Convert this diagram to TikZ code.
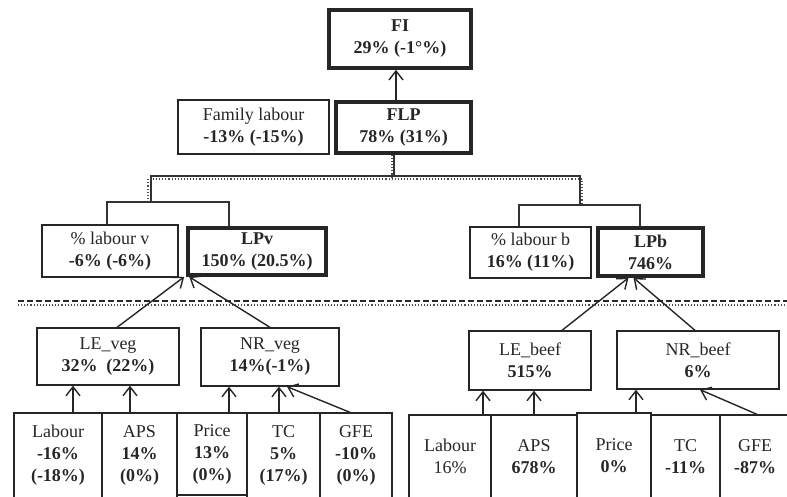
\documentclass[tikz,border=0pt]{standalone}
\usepackage{fontspec}
\setmainfont{Liberation Serif}
\usetikzlibrary{arrows.meta}

\begin{document}
\begin{tikzpicture}[
    x=1pt, y=-1pt,
    % Estilo para las cajas de indicadores
    caja/.style={draw=black!85, line width=1.3pt, align=center, inner sep=0pt, text=black!85, font=\fontsize{18}{22}\selectfont},
    cajaP/.style={caja, line width=3.6pt},
    tam/.style 2 args={minimum width=#1pt, minimum height=#2pt},
    % Estilo para las flechas de influencia
    flecha/.style={line width=1.4pt, draw=black!85, -{Straight Barb[length=9pt,width=14pt]}},
    % Estilo para el arbol de descomposicion
    bus/.style={line width=1.3pt, draw=black!80},
    punteo/.style={line width=1.1pt, dotted, draw=black!70}
]
    \useasboundingbox (0,0) rectangle (787,496);

    % ==========================================
    % NIVEL SUPERIOR: FI Y FLP
    % ==========================================
    \node[cajaP, tam={142}{58}] (fi) at (400,39) {\textbf{FI}\\\textbf{29\% (-1°\%)}};
    \node[caja, tam={151}{54}] (famlab) at (253.5,127) {Family labour\\\textbf{-13\% (-15\%)}};
    \node[cajaP, tam={135}{51}] (flp) at (403.5,127.5) {\textbf{FLP}\\\textbf{78\% (31\%)}};

    \draw[flecha] ([xshift=-7.5pt]flp.north) -- ([xshift=-7.5pt]flp.north |- fi.south);

    % ==========================================
    % NIVEL MEDIO: VEGETALES Y CARNE
    % ==========================================
    \node[caja, tam={136}{52}] (plv) at (110,251) {\% labour v\\\textbf{-6\% (-6\%)}};
    \node[cajaP, tam={138}{47}] (lpv) at (257,251.5) {\textbf{LPv}\\\textbf{150\% (20.5\%)}};
    \node[caja, tam={121}{51}] (plb) at (530.5,252.5) {\% labour b\\\textbf{16\% (11\%)}};
    \node[cajaP, tam={105}{48}] (lpb) at (650.5,252) {\textbf{LPb}\\\textbf{746\%}};

    % Arbol (linea doble: continua + punteada)
    \coordinate (hub) at (394,176);
    \coordinate (jv) at (151,202);
    \coordinate (jb) at (580,205);
    \draw[bus] (flp.south -| hub) -- (hub);
    \draw[bus] (jv) |- (hub) -| (jb);
    \draw[punteo] ([xshift=-2pt]flp.south -| hub) -- ([xshift=-2pt,yshift=-3pt]hub);
    \draw[punteo] ([xshift=-3pt]jv) |- ([yshift=-3pt]hub) -| ([xshift=2pt]jb);
    \draw[bus] ([xshift=-3pt]plv.north) |- (jv) -| ([xshift=-28pt]lpv.north);
    \draw[bus] ([xshift=-11.5pt]plb.north) |- (jb) -| ([xshift=-10.5pt]lpb.north);

    % Separador
    \draw[line width=1.4pt, draw=black!85, dash pattern=on 6pt off 3pt] (18,301) -- (787,301);
    \draw[punteo] (18,305) -- (787,305);

    % ==========================================
    % NIVEL INFERIOR: LE Y NR
    % ==========================================
    \node[caja, tam={142}{57}] (leveg) at (108,356.5) {LE\_veg\\\textbf{32\%\ \ (22\%)}};
    \node[caja, tam={138}{58}] (nrveg) at (270,357) {NR\_veg\\\textbf{14\%(-1\%)}};
    \node[caja, tam={122}{59}] (lebeef) at (530,360.5) {LE\_beef\\\textbf{515\%}};
    \node[caja, tam={162}{58}] (nrbeef) at (698,360) {NR\_beef\\\textbf{6\%}};

    \draw[flecha] ([xshift=9pt]leveg.north) -- ([xshift=-2pt]lpv.south west);
    \draw[flecha] (nrveg.north) -- ([xshift=3pt]lpv.south west);
    \draw[flecha] ([xshift=32pt]lebeef.north) -- ([xshift=-22pt]lpb.south);
    \draw[flecha] ([xshift=-3pt]nrbeef.north) -- ([xshift=-17pt]lpb.south);

    % Factores (vegetales)
    \node[caja, tam={88}{85}] (labv) at (58,455.5) {Labour\\\textbf{-16\%}\\\textbf{(-18\%)}};
    \node[caja, tam={75}{85}] (apsv) at (139.5,455.5) {APS\\\textbf{14\%}\\\textbf{(0\%)}};
    \node[caja, tam={70}{82}] (pricev) at (212,454) {Price\\\textbf{13\%}\\\textbf{(0\%)}};
    \node[caja, tam={73}{85}] (tcv) at (283.5,455.5) {TC\\\textbf{5\%}\\\textbf{(17\%)}};
    \node[caja, tam={72}{85}] (gfev) at (356,455.5) {GFE\\\textbf{-10\%}\\\textbf{(0\%)}};

    \draw[flecha] ([xshift=15pt]labv.north) -- ([xshift=15pt]labv.north |- leveg.south);
    \draw[flecha] ([xshift=-9.5pt]apsv.north) -- ([xshift=-9.5pt]apsv.north |- leveg.south);
    \draw[flecha] ([xshift=17pt]pricev.north) -- ([xshift=17pt]pricev.north |- nrveg.south);
    \draw[flecha] ([xshift=-4.5pt]tcv.north) -- ([xshift=-4.5pt]tcv.north |- nrveg.south);
    \draw[flecha] ([xshift=-6pt]gfev.north) -- ([xshift=17pt]nrveg.south);

    % Factores (carne)
    \node[caja, tam={82}{83}] (labb) at (450,456.5) {Labour\\16\%};
    \node[caja, tam={86}{83}] (apsb) at (534,456.5) {APS\\\textbf{678\%}};
    \node[caja, tam={74}{85}] (priceb) at (614,455.5) {Price\\\textbf{0\%}};
    \node[caja, tam={69}{83}] (tcb) at (685.5,456.5) {TC\\\textbf{-11\%}};
    \node[caja, tam={70}{83}] (gfeb) at (755,456.5) {GFE\\\textbf{-87\%}};

    \draw[flecha] ([xshift=33pt]labb.north) -- ([xshift=33pt]labb.north |- lebeef.south);
    \draw[flecha] (apsb.north) -- (apsb.north |- lebeef.south);
    \draw[flecha] ([xshift=22pt]priceb.north) -- ([xshift=22pt]priceb.north |- nrbeef.south);
    \draw[flecha] ([xshift=2pt]gfeb.north) -- ([xshift=2pt]nrbeef.south);

\end{tikzpicture}
\end{document}
